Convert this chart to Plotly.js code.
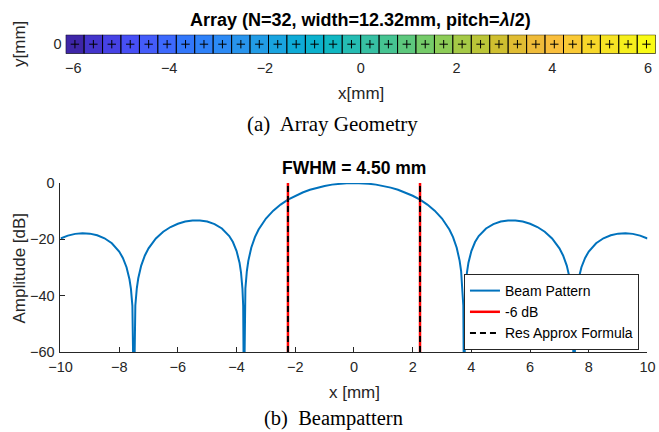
<!DOCTYPE html>
<html>
<head>
<meta charset="utf-8">
<script src="https://cdn.plot.ly/plotly-3.0.1.min.js"></script>
<style>html,body{margin:0;padding:0;background:#fff;} #plot{width:659px;height:432px;}</style>
</head>
<body>
<div id="plot"></div>
<script>
// ---------- data ----------
const elementX = [-5.9675,-5.5825,-5.1975,-4.8125,-4.4275,-4.0425,-3.6575,-3.2725,-2.8875,-2.5025,-2.1175,-1.7325,-1.3475,-0.9625,-0.5775,-0.1925,
                  0.1925,0.5775,0.9625,1.3475,1.7325,2.1175,2.5025,2.8875,3.2725,3.6575,4.0425,4.4275,4.8125,5.1975,5.5825,5.9675];
const elementIndex = [1,2,3,4,5,6,7,8,9,10,11,12,13,14,15,16,17,18,19,20,21,22,23,24,25,26,27,28,29,30,31,32];
const elementPitch = 0.385;
const elementY = [0,0,0,0,0,0,0,0,0,0,0,0,0,0,0,0,0,0,0,0,0,0,0,0,0,0,0,0,0,0,0,0];
const arrayTicks = [-6,-4,-2,0,2,4,6];

const beamX = [-10,-9.75,-9.5,-9.25,-9,-8.75,-8.5,-8.25,-8,-7.875,-7.75,-7.65,-7.6,-7.55,-7.5,-7.45,-7.4,-7.35,-7.25,-7.125,-7,-6.75,-6.5,-6.25,-6,-5.75,-5.5,-5.25,-5,-4.75,-4.5,-4.25,-4.125,-4,-3.9,-3.85,-3.8,-3.775,-3.75,-3.725,-3.7,-3.65,-3.6,-3.5,-3.375,-3.25,-3,-2.75,-2.5,-2.25,-2,-1.75,-1.5,-1.25,-1,-0.75,-0.5,-0.25,
               0,0.25,0.5,0.75,1,1.25,1.5,1.75,2,2.25,2.5,2.75,3,3.25,3.375,3.5,3.6,3.65,3.7,3.725,3.75,3.775,3.8,3.85,3.9,4,4.125,4.25,4.5,4.75,5,5.25,5.5,5.75,6,6.25,6.5,6.75,7,7.125,7.25,7.35,7.4,7.45,7.5,7.55,7.6,7.65,7.75,7.875,8,8.25,8.5,8.75,9,9.25,9.5,9.75,10];
const beamDB = [-19.71,-18.68,-18.06,-17.83,-17.98,-18.55,-19.63,-21.41,-24.34,-26.59,-29.89,-34.18,-37.6,-43.6,-80,-43.5,-37.38,-33.83,-29.31,-25.72,-23.18,-19.67,-17.30,-15.63,-14.46,-13.70,-13.32,-13.30,-13.69,-14.58,-16.14,-18.85,-20.97,-24.15,-28.3,-31.7,-37.6,-43.6,-80,-43.5,-37.4,-31.25,-27.63,-22.99,-19.23,-16.51,-12.62,-9.83,-7.67,-5.94,-4.53,-3.37,-2.42,-1.65,-1.04,-0.58,-0.26,-0.06,
                0,-0.06,-0.26,-0.58,-1.04,-1.65,-2.42,-3.37,-4.53,-5.94,-7.67,-9.83,-12.62,-16.51,-19.23,-22.99,-27.63,-31.25,-37.4,-43.5,-80,-43.6,-37.6,-31.7,-28.3,-24.15,-20.97,-18.85,-16.14,-14.58,-13.69,-13.30,-13.32,-13.70,-14.46,-15.63,-17.30,-19.67,-23.18,-25.72,-29.31,-33.83,-37.38,-43.5,-80,-43.6,-37.6,-34.18,-29.89,-26.59,-24.34,-21.41,-19.63,-18.55,-17.98,-17.83,-18.06,-18.68,-19.71];
const halfMaxX = [-2.25, 2.25];      // -6 dB crossing points
const resApproxX = [-2.25, 2.25];    // resolution approx formula
const fwhmMM = 4.50;
const beamXTicks = [-10,-8,-6,-4,-2,0,2,4,6,8,10];
const beamYTicks = [-60,-40,-20,0];

// ---------- styles ----------
const parula = [
  [0.00,'rgb(62,38,168)'],[0.05,'rgb(69,60,222)'],[0.10,'rgb(71,80,247)'],[0.15,'rgb(65,100,253)'],
  [0.20,'rgb(48,122,251)'],[0.25,'rgb(45,135,247)'],[0.30,'rgb(39,151,235)'],[0.35,'rgb(27,163,225)'],
  [0.40,'rgb(9,174,212)'],[0.45,'rgb(15,183,195)'],[0.50,'rgb(48,190,172)'],[0.55,'rgb(71,196,145)'],
  [0.60,'rgb(107,203,112)'],[0.65,'rgb(145,204,84)'],[0.70,'rgb(181,199,59)'],[0.75,'rgb(212,189,46)'],
  [0.80,'rgb(237,186,56)'],[0.85,'rgb(252,191,61)'],[0.90,'rgb(247,214,43)'],[0.95,'rgb(245,232,33)'],
  [1.00,'rgb(249,251,21)']
];
const FONT = 'Liberation Sans, Arial, sans-serif';
const SERIF = 'Liberation Serif, Times New Roman, serif';
const AX = '#262626';

function vline(xs){ const x=[],y=[]; xs.forEach(v=>{x.push(v,v,null);y.push(-60,0,null);}); return {x,y}; }
const red = vline(halfMaxX), blk = vline(resApproxX);

const traces = [
  {type:'bar', x:elementX, y:elementIndex.map(()=>1), base:-0.5, width:elementPitch,
   marker:{color:elementIndex, colorscale:parula, cmin:1, cmax:32, line:{color:'#000', width:1}},
   xaxis:'x', yaxis:'y', showlegend:false, hoverinfo:'skip'},
  {type:'scatter', mode:'markers', x:elementX, y:elementY,
   marker:{symbol:'cross-thin', size:6, line:{color:'#000', width:1}, color:'#000'},
   xaxis:'x', yaxis:'y', showlegend:false},
  {type:'scatter', mode:'lines', x:beamX, y:beamDB, name:'Beam Pattern',
   line:{color:'#0072BD', width:2}, xaxis:'x2', yaxis:'y2'},
  {type:'scatter', mode:'lines', x:red.x, y:red.y, name:'-6 dB',
   line:{color:'#FF0000', width:2.5}, xaxis:'x2', yaxis:'y2'},
  {type:'scatter', mode:'lines', x:blk.x, y:blk.y, name:'Res Approx Formula',
   line:{color:'#000000', width:2, dash:'6px,4px'}, xaxis:'x2', yaxis:'y2'}
];

const tickFont = {family:FONT, size:14.5, color:AX};
const titleFont = {family:FONT, size:17, color:AX};
function ann(x, y, text, font, extra){ return Object.assign({xref:'paper', yref:'paper', x:x/659, y:(432-y)/432,
  xanchor:'center', yanchor:'middle', showarrow:false, text:text, font:font}, extra||{}); }

const layout = {
  width:659, height:432, margin:{l:0,r:0,t:0,b:0},
  paper_bgcolor:'#fff', plot_bgcolor:'#fff',
  font:{family:FONT, color:AX},
  bargap:0,
  xaxis:{domain:[0.0997,0.995], range:[-6.16,6.16], tickvals:arrayTicks, ticks:'', showgrid:false, zeroline:false,
         showline:false, tickfont:tickFont, anchor:'y', ticklabelstandoff:4},
  yaxis:{domain:[0.8757,0.9197], range:[-0.5,0.5], tickvals:[0], ticks:'', showgrid:false, zeroline:false,
         showline:false, tickfont:tickFont, anchor:'x', ticklabelstandoff:3},
  xaxis2:{domain:[0.0918,0.9825], range:[-10,10], tickvals:beamXTicks, ticks:'inside', ticklen:5, tickcolor:AX,
          showline:true, linecolor:AX, linewidth:1, showgrid:false, zeroline:false, tickfont:tickFont, anchor:'y2',
          ticklabelstandoff:2},
  yaxis2:{domain:[0.1852,0.5764], range:[-60,0], tickvals:beamYTicks, ticks:'inside', ticklen:5, tickcolor:AX,
          showline:true, linecolor:AX, linewidth:1, showgrid:false, zeroline:false, tickfont:tickFont, anchor:'x2',
          ticklabelstandoff:2},
  showlegend:true,
  legend:{x:0.9696, y:(432-312)/432, xanchor:'right', yanchor:'middle', bgcolor:'#fff', bordercolor:AX, borderwidth:1,
          font:{family:FONT, size:14, color:'#000'}, tracegroupgap:0, itemwidth:30},
  annotations:[
    ann(361, 20, '<b>Array (N=32, width=12.32mm, pitch=<i>λ</i>/2)</b>', {family:FONT, size:18, color:'#000'}),
    ann(19, 44, 'y[mm]', titleFont, {textangle:-90}),
    ann(361, 93, 'x[mm]', titleFont),
    ann(332, 124, '(a)  Array Geometry', {family:SERIF, size:21, color:'#000'}),
    ann(354, 168, '<b>FWHM = '+fwhmMM.toFixed(2)+' mm</b>', {family:FONT, size:17.5, color:'#000'}),
    ann(18.5, 268, 'Amplitude [dB]', titleFont, {textangle:-90}),
    ann(354, 392, 'x [mm]', titleFont),
    ann(333, 418, '(b)  Beampattern', {family:SERIF, size:20.5, color:'#000'})
  ]
};
Plotly.newPlot('plot', traces, layout, {displayModeBar:false, staticPlot:true});
</script>
</body>
</html>
